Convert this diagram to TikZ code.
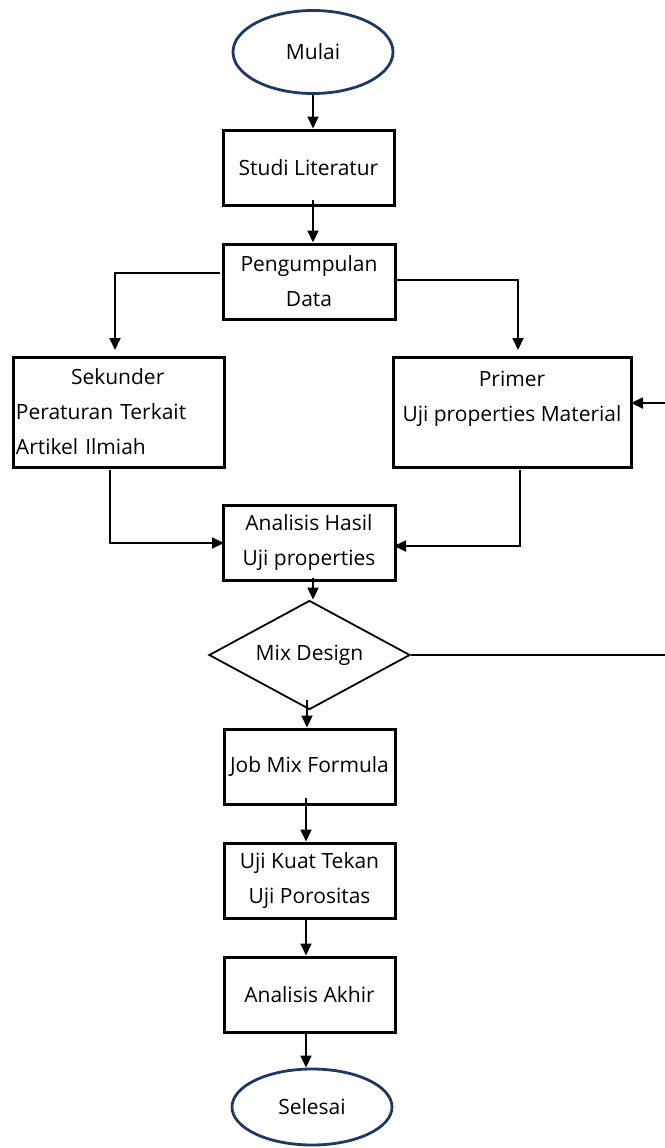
\documentclass[tikz,border=0pt]{standalone}
\usepackage{fontspec}
\setmainfont{Open Sans}
\usetikzlibrary{arrows.meta,shapes.geometric}
\definecolor{navy}{HTML}{1F3864}
\begin{document}
\begin{tikzpicture}[x=1pt,y=-1pt,
  font=\fontsize{21}{35}\selectfont,
  box/.style={draw=black,line width=3pt,rectangle,inner sep=0pt,align=center},
  term/.style={draw=navy,line width=2.8pt,ellipse,inner sep=0pt,minimum width=160pt},
  dec/.style={draw=black,line width=1.8pt,diamond,inner sep=0pt,minimum width=201pt,minimum height=109pt,aspect=1.85},
  conn/.style={line width=1.8pt},
  arr/.style={conn,-{Triangle[length=12pt,width=11pt]}}]
\useasboundingbox (0,0) rectangle (664,1148);
\node[term,minimum height=83pt] (mulai) at (313,52) {Mulai};
\node[box,minimum width=171pt,minimum height=75pt] (studi) at (308.5,167.5) {Studi Literatur};
\node[box,minimum width=172pt,minimum height=75pt] (peng) at (309,281.5) {Pengumpulan\\Data};
\node[box,minimum width=211pt,minimum height=110pt,text width=205pt,align=left] (sek) at (118.5,412) {\hspace*{55pt}Sekunder\\Peraturan Terkait\\Artikel Ilmiah};
\node[box,minimum width=238pt,minimum height=110pt] (prim) at (512,412) {Primer\\Uji properties Material\\[-14pt]\strut};
\node[box,minimum width=172pt,minimum height=75pt] (anal) at (309,542.5) {Analisis Hasil\\Uji properties};
\node[dec] (mix) at (309.5,655) {Mix Design};
\node[box,minimum width=171pt,minimum height=75pt] (job) at (309.5,766.5) {Job Mix Formula};
\node[box,minimum width=171pt,minimum height=75pt] (uji) at (309.5,880.5) {Uji Kuat Tekan\\Uji Porositas};
\node[box,minimum width=171pt,minimum height=75pt] (akhir) at (309.5,994.5) {Analisis Akhir};
\node[term,minimum height=76pt] (selesai) at (312,1107) {Selesai};
% connector start points
\coordinate (c1) at (313,200);
\coordinate (c2) at (220,273);
\coordinate (c2e) at (115,350);
\coordinate (c3) at (397,280);
\coordinate (c3e) at (518,350);
\coordinate (c4) at (110,470);
\coordinate (c4e) at (224,543);
\coordinate (c5) at (520,470);
\coordinate (c5e) at (394,546);
\coordinate (c6) at (313,578);
\coordinate (c7) at (307,700);
\coordinate (c8) at (306,798);
\coordinate (c9) at (306,918);
\coordinate (c10) at (306,1032);
\coordinate (fb) at (667,655);
\coordinate (fbe) at (631,403);
% connectors
\draw[arr] (mulai.south) -- (mulai.south |- studi.north);
\draw[arr] (c1) -- (c1 |- peng.north);
\draw[arr] (c2) -| (c2e);
\draw[arr] (c3) -| (c3e);
\draw[arr] (c4) |- (c4e);
\draw[arr] (c5) |- (c5e);
\draw[arr] (c6) -- (c6 |- mix.north);
\draw[arr] (c7) -- (c7 |- job.north);
\draw[arr] (c8) -- (c8 |- uji.north);
\draw[arr] (c9) -- (c9 |- akhir.north);
\draw[arr] (c10) -- (c10 |- selesai.north);
\draw[arr] (mix.east) -- (fb) |- (fbe);
\end{tikzpicture}
\end{document}
